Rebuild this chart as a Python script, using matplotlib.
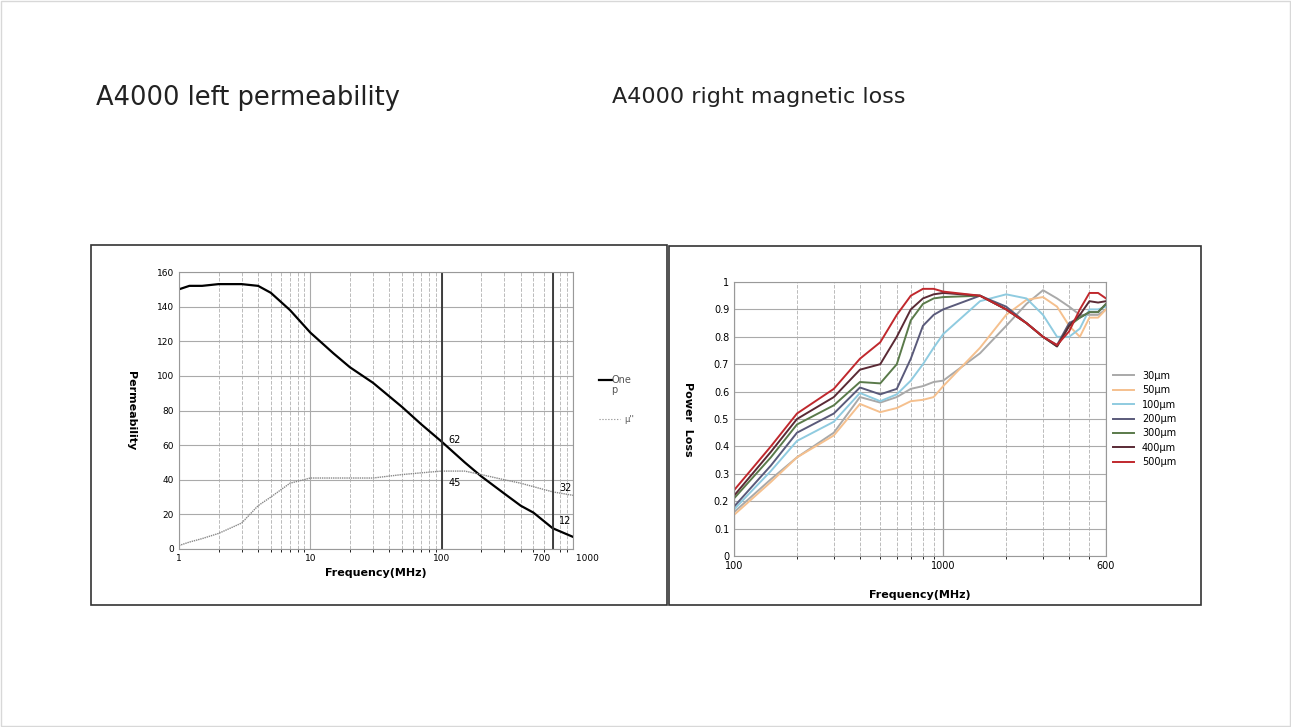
import numpy as np
import matplotlib.pyplot as plt
from matplotlib.patches import Rectangle
from matplotlib.ticker import FixedLocator, NullFormatter

# left chart: permeability vs frequency
perm_f = [1, 1.2, 1.5, 2, 3, 4, 5, 7, 10, 15, 20, 30, 50, 70, 100, 150, 200, 300, 400, 500, 700, 1000]
mu_real = [150, 152, 152, 153, 153, 152, 148, 138, 125, 113, 105, 96, 82, 72, 62, 50, 42, 32, 25, 21, 12, 7]
mu_imag = [2, 4, 6, 9, 15, 25, 30, 38, 41, 41, 41, 41, 43, 44, 45, 45, 43, 40, 38, 36, 33, 31]

# right chart: power loss vs frequency
loss_f = [100, 150, 200, 300, 400, 500, 600, 700, 800, 900, 1000, 1500, 2000, 2500, 3000, 3500, 4000, 4500, 5000, 5500, 6000]
loss = {
    '30μm':  [0.16, 0.28, 0.36, 0.45, 0.58, 0.56, 0.58, 0.61, 0.62, 0.635, 0.64, 0.74, 0.84, 0.92, 0.97, 0.94, 0.91, 0.88, 0.88, 0.88, 0.90],
    '50μm':  [0.15, 0.27, 0.36, 0.44, 0.555, 0.525, 0.54, 0.565, 0.57, 0.58, 0.62, 0.76, 0.88, 0.935, 0.945, 0.91, 0.84, 0.80, 0.87, 0.87, 0.90],
    '100μm': [0.17, 0.31, 0.42, 0.49, 0.595, 0.565, 0.59, 0.64, 0.70, 0.76, 0.81, 0.93, 0.955, 0.94, 0.88, 0.80, 0.80, 0.83, 0.90, 0.90, 0.91],
    '200μm': [0.18, 0.33, 0.45, 0.52, 0.615, 0.59, 0.61, 0.72, 0.84, 0.88, 0.90, 0.95, 0.91, 0.85, 0.80, 0.77, 0.85, 0.87, 0.89, 0.89, 0.92],
    '300μm': [0.21, 0.36, 0.48, 0.55, 0.635, 0.63, 0.70, 0.86, 0.92, 0.94, 0.945, 0.95, 0.90, 0.85, 0.80, 0.765, 0.84, 0.87, 0.89, 0.89, 0.92],
    '400μm': [0.22, 0.38, 0.50, 0.58, 0.68, 0.70, 0.80, 0.90, 0.94, 0.955, 0.96, 0.95, 0.90, 0.85, 0.80, 0.765, 0.84, 0.88, 0.93, 0.925, 0.93],
    '500μm': [0.24, 0.40, 0.52, 0.61, 0.72, 0.78, 0.88, 0.95, 0.975, 0.975, 0.965, 0.95, 0.90, 0.85, 0.80, 0.77, 0.82, 0.90, 0.96, 0.96, 0.94],
}
loss_colors = ['#a9a9a9', '#f5c08e', '#8fcbe0', '#5a5a7a', '#5a7a4a', '#5a2a35', '#c0282d']

W, H = 1291, 727
fig = plt.figure(figsize=(W / 100, H / 100), dpi=100)


def frac(x0, y0, x1, y1):
    return [x0 / W, 1 - y1 / H, (x1 - x0) / W, (y1 - y0) / H]


# slide border and image frames
fig.patches.append(Rectangle((0.001, 0.001), 0.998, 0.997, transform=fig.transFigure,
                             fill=False, ec='#d8d8d8', lw=1))
for box in [(91, 245, 667, 605), (669, 246, 1201, 605)]:
    x0, y0, w, h = frac(*box)
    fig.patches.append(Rectangle((x0, y0), w, h, transform=fig.transFigure,
                                 fill=False, ec='#333333', lw=1.2))

fig.text(96 / W, 1 - 98 / H, 'A4000 left permeability', fontsize=18.5, va='center', color='#222222')
fig.text(612 / W, 1 - 97 / H, 'A4000 right magnetic loss', fontsize=16, va='center', color='#222222')

# left chart
ax1 = fig.add_axes(frac(179, 272, 573, 549))
ax1.plot(perm_f, mu_real, color='black', lw=1.6)
ax1.plot(perm_f, mu_imag, color='#888888', lw=1.0, ls=(0, (1, 0.6)))
ax1.set_xscale('log')
ax1.set_xlim(1, 1000)
ax1.set_ylim(0, 160)
ax1.set_yticks(range(0, 161, 20))
ax1.xaxis.set_major_locator(FixedLocator([1, 10, 100, 700, 1000]))
ax1.set_xticklabels(['1', '10', '100', '700 ', ' 1000'], fontsize=6.5)
ax1.get_xticklabels()[3].set_ha('right')
ax1.get_xticklabels()[4].set_ha('left')
ax1.xaxis.set_minor_locator(FixedLocator([k * d for d in (1, 10, 100) for k in range(2, 10)]))
ax1.xaxis.set_minor_formatter(NullFormatter())
ax1.grid(axis='y', color='#aaaaaa', lw=0.8)
ax1.grid(axis='x', which='minor', color='#bbbbbb', lw=0.7, ls='--')
ax1.grid(axis='x', which='major', color='#aaaaaa', lw=0.8)
ax1.axvline(100, color='#333333', lw=1.3)
ax1.axvline(700, color='#333333', lw=1.3)
ax1.tick_params(labelsize=6.5, length=0)
for s in ax1.spines.values():
    s.set_color('#999999')
ax1.set_xlabel('Frequency(MHz)', fontsize=8, fontweight='bold')
ax1.set_ylabel('Permeability', fontsize=8, fontweight='bold', rotation=270, labelpad=22)
for x, y, t in [(112, 63, '62'), (112, 38, '45'), (780, 35, '32'), (780, 16, '12')]:
    ax1.text(x, y, t, fontsize=7, va='center')
fig.lines.append(plt.Line2D([599 / W, 612 / W], [1 - 380 / H] * 2, transform=fig.transFigure, color='black', lw=1.6))
fig.text(611 / W, 1 - 380 / H, 'One', fontsize=7, va='center', color='#555555')
fig.text(611 / W, 1 - 390 / H, 'p', fontsize=7, va='center', color='#555555')
fig.lines.append(plt.Line2D([599 / W, 620 / W], [1 - 419 / H] * 2, transform=fig.transFigure, color='#888888', lw=0.8, ls=':'))
fig.text(624 / W, 1 - 419 / H, "μ''", fontsize=6, va='center', color='#555555')

# right chart
ax2 = fig.add_axes(frac(734, 282, 1106, 556))
for (name, vals), c in zip(loss.items(), loss_colors):
    ax2.plot(loss_f, vals, color=c, lw=1.4, label=name)
ax2.set_xscale('log')
ax2.set_xlim(100, 6000)
ax2.set_ylim(0, 1)
ax2.set_yticks(np.arange(0, 1.01, 0.1))
ax2.set_yticklabels(['0', '0.1', '0.2', '0.3', '0.4', '0.5', '0.6', '0.7', '0.8', '0.9', '1'])
ax2.xaxis.set_major_locator(FixedLocator([100, 1000, 6000]))
ax2.set_xticklabels(['100', '1000', '600'])
ax2.xaxis.set_minor_locator(FixedLocator([200, 300, 400, 500, 600, 700, 800, 900, 2000, 3000, 4000, 5000]))
ax2.xaxis.set_minor_formatter(NullFormatter())
ax2.grid(axis='y', color='#aaaaaa', lw=0.8)
ax2.grid(axis='x', which='minor', color='#bbbbbb', lw=0.7, ls='--')
ax2.grid(axis='x', which='major', color='#999999', lw=0.9)
ax2.tick_params(labelsize=7, length=0)
for s in ax2.spines.values():
    s.set_color('#999999')
ax2.set_xlabel('Frequency(MHz)', fontsize=8, fontweight='bold', labelpad=14)
ax2.set_ylabel('Power  Loss', fontsize=8, fontweight='bold', rotation=270, labelpad=22)
ax2.legend(loc='center left', bbox_to_anchor=(1.0, 0.5), frameon=False, fontsize=7,
           handlelength=2.2, labelspacing=0.45, borderaxespad=0.3)

fig.savefig('out.png', dpi=100)
